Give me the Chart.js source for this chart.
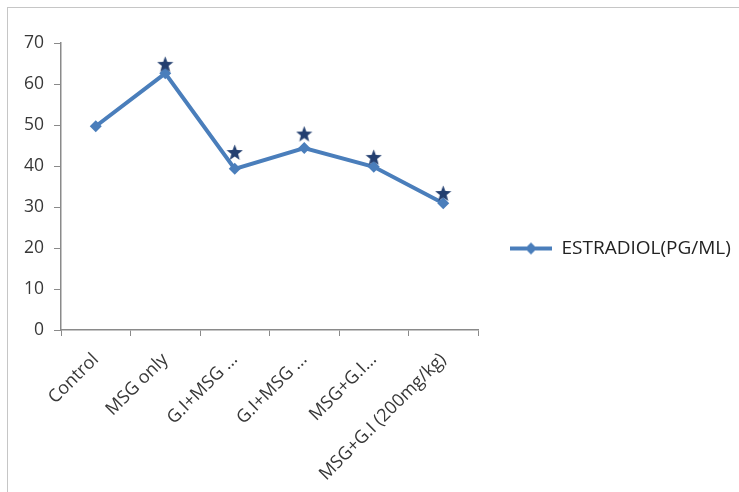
<!DOCTYPE html>
<html>
<head>
<meta charset="utf-8">
<script src="https://cdn.jsdelivr.net/npm/chart.js@4.4.1/dist/chart.umd.min.js"></script>
<style>
  html, body { margin: 0; padding: 0; background: #fff; overflow: hidden; }
  #frame { position: absolute; left: 7px; top: 7px; width: 800px; height: 600px; border: 1px solid #c6c6c6; }
  #wrap { position: absolute; left: 8px; top: 8px; width: 731px; height: 484px; }
</style>
</head>
<body>
<div id="frame"></div>
<div id="wrap"><canvas id="chart"></canvas></div>
<script>
// chart data
const categories = ['Control', 'MSG only', 'G.I+MSG ...', 'G.I+MSG ...', 'MSG+G.I...', 'MSG+G.I (200mg/kg)'];
const estradiol = [49.7, 62.6, 39.3, 44.4, 39.8, 30.9];
const starMarks = [null, 64.8, 43.3, 47.8, 42.1, 33.3];
const yTicks = [0, 10, 20, 30, 40, 50, 60, 70];

const BLUE = '#4a7ebb';
const NAVY = '#233f70';
const AXIS = '#8a8a8a';
const TEXT = '#383838';

// filled five-point star used as the significance marker
function mkStar(size, color) {
  const c = document.createElement('canvas');
  c.width = size; c.height = size;
  const g = c.getContext('2d');
  const cx = size / 2, cy = size / 2 + 0.5, R = size / 2, r = R * 0.42;
  g.beginPath();
  for (let i = 0; i < 10; i++) {
    const rad = i % 2 ? r : R;
    const a = -Math.PI / 2 + i * Math.PI / 5;
    const px = cx + rad * Math.cos(a), py = cy + rad * Math.sin(a);
    if (i === 0) g.moveTo(px, py); else g.lineTo(px, py);
  }
  g.closePath();
  g.fillStyle = color;
  g.fill();
  return c;
}

// legend sample: line with a diamond in the middle
function mkLegendMark(w, h) {
  const c = document.createElement('canvas');
  c.width = w; c.height = h;
  const g = c.getContext('2d');
  g.strokeStyle = BLUE; g.lineWidth = 4;
  g.beginPath(); g.moveTo(0, h / 2); g.lineTo(w, h / 2); g.stroke();
  g.fillStyle = BLUE;
  g.beginPath();
  g.moveTo(w / 2, h / 2 - 6); g.lineTo(w / 2 + 6, h / 2); g.lineTo(w / 2, h / 2 + 6); g.lineTo(w / 2 - 6, h / 2);
  g.closePath(); g.fill();
  return c;
}

const starImg = mkStar(17, NAVY);
const legendImg = mkLegendMark(42, 14);

new Chart(document.getElementById('chart'), {
  type: 'line',
  data: {
    labels: categories,
    datasets: [
      {
        label: 'ESTRADIOL(PG/ML)',
        data: estradiol,
        borderColor: BLUE,
        backgroundColor: BLUE,
        borderWidth: 4,
        pointStyle: 'rectRot',
        pointRadius: 6,
        pointBorderWidth: 0,
        tension: 0,
        order: 2
      },
      {
        label: 'stars',
        data: starMarks,
        showLine: false,
        pointStyle: starImg,
        order: 1
      }
    ]
  },
  options: {
    responsive: true,
    maintainAspectRatio: false,
    animation: false,
    layout: { padding: { top: 35, right: 0, bottom: 0, left: 0 } },
    plugins: {
      tooltip: { enabled: false },
      legend: {
        position: 'right',
        maxWidth: 261,
        // empty title with negative padding just lifts the single entry a bit
        title: { display: true, text: '', font: { size: 12 }, padding: { top: -52.4, bottom: 0 } },
        labels: {
          usePointStyle: true,
          pointStyleWidth: 42,
          padding: 32,
          color: '#222',
          font: { family: 'Open Sans', size: 19 },
          filter: (item) => item.text !== 'stars',
          generateLabels: (chart) => {
            const items = Chart.defaults.plugins.legend.labels.generateLabels(chart);
            items.forEach(it => { it.pointStyle = legendImg; });
            return items;
          }
        }
      }
    },
    scales: {
      x: {
        type: 'category',
        offset: true,
        grid: { offset: true, drawOnChartArea: false, drawTicks: true, tickLength: 6, color: AXIS },
        border: { color: AXIS, width: 1.5 },
        ticks: { color: TEXT, font: { family: 'Open Sans', size: 18 }, minRotation: 45, maxRotation: 45, autoSkip: false, padding: 13 },
        afterFit: (s) => { s.height = 162; }
      },
      y: {
        min: 0,
        max: 70,
        afterBuildTicks: (s) => { s.ticks = yTicks.map(v => ({ value: v })); },
        grid: { drawOnChartArea: false, drawTicks: true, tickLength: 7, color: AXIS },
        border: { color: AXIS, width: 1.5 },
        ticks: { color: TEXT, font: { family: 'Open Sans', size: 17.5 }, padding: 10 },
        afterFit: (s) => { s.width = 53; }
      }
    }
  }
});
</script>
</body>
</html>
